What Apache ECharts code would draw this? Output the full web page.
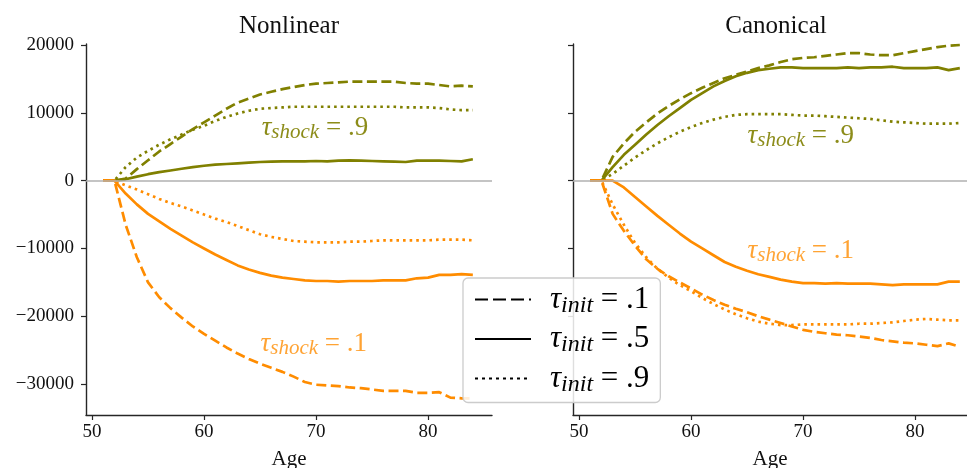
<!DOCTYPE html>
<html lang="en">
<head>
<meta charset="UTF-8">
<title>Nonlinear / Canonical</title>
<script src="https://cdn.jsdelivr.net/npm/echarts@6/dist/echarts.min.js"></script>
</head>
<body style="margin:0;background:#fff;">
<div id="chart" style="width:967px;height:468px;"></div>
<script>
// ages on the x axis
var ages = [51,52,53,54,55,56,57,58,59,60,61,62,63,64,65,66,67,68,69,70,71,72,73,74,75,76,77,78,79,80,81,82,83,84];

// Nonlinear panel (d = tau_init .1, s = .5, o = .9 ; suffix = tau_shock)
var nl_d9 = [0,0,300,1700,3000,4300,5400,6500,7600,8600,9600,10600,11500,12100,12700,13100,13500,13800,14100,14300,14400,14500,14600,14600,14600,14600,14600,14400,14300,14300,14100,13900,14000,13900];
var nl_s9 = [0,0,200,600,950,1250,1500,1750,2000,2200,2350,2450,2550,2650,2750,2800,2850,2850,2850,2900,2850,2950,3000,2950,2900,2850,2800,2750,2950,2950,2950,2900,2850,3150];
var nl_o9 = [0,0,2000,3400,4400,5300,6100,6800,7500,8100,8800,9400,9900,10300,10600,10700,10800,10900,10900,10900,10900,10900,10900,10900,10900,10900,10900,10800,10800,10800,10700,10500,10400,10400];
var nl_d1 = [0,0,-6500,-11300,-15000,-17200,-18800,-20200,-21500,-22600,-23600,-24600,-25500,-26300,-27000,-27600,-28200,-28900,-29700,-30100,-30200,-30300,-30500,-30600,-30800,-31000,-31000,-31000,-31300,-31300,-31200,-32000,-32100,-32100];
var nl_s1 = [0,0,-1900,-3500,-4900,-6000,-7100,-8100,-9100,-10000,-10900,-11700,-12500,-13100,-13600,-14000,-14300,-14500,-14700,-14800,-14800,-14900,-14800,-14800,-14800,-14700,-14700,-14700,-14400,-14300,-13900,-13900,-13800,-13900];
var nl_o1 = [0,0,-700,-1300,-2000,-2700,-3300,-3800,-4400,-5000,-5600,-6100,-6700,-7300,-7900,-8300,-8600,-8900,-9000,-9100,-9100,-9100,-9000,-9000,-8900,-8800,-8800,-8800,-8800,-8800,-8700,-8700,-8700,-8800];

// Canonical panel
var c_d9 = [0,0,3500,5500,7200,8600,9900,11000,12000,12900,13700,14400,15100,15600,16100,16600,17000,17500,17900,18100,18200,18400,18600,18800,18800,18600,18500,18500,18800,19100,19400,19700,19900,20000];
var c_s9 = [0,0,2000,3800,5300,6800,8200,9500,10700,11900,12900,13900,14700,15400,15900,16300,16500,16700,16700,16600,16600,16600,16600,16700,16600,16700,16700,16800,16600,16600,16600,16700,16300,16600];
var c_o9 = [0,0,1000,2200,3400,4500,5500,6400,7200,7900,8500,9000,9400,9700,9800,9800,9800,9800,9700,9600,9600,9500,9400,9300,9200,9100,8900,8700,8600,8500,8400,8400,8400,8500];
var c_d1 = [0,0,-4900,-7400,-9600,-11600,-13000,-14100,-15000,-15900,-16800,-17600,-18300,-18900,-19400,-20000,-20500,-21000,-21500,-22000,-22300,-22500,-22700,-22800,-23000,-23200,-23500,-23700,-23900,-24000,-24200,-24400,-24000,-24500];
var c_s1 = [0,0,0,-1000,-2400,-3800,-5200,-6500,-7800,-9000,-10000,-11000,-12000,-12700,-13300,-13800,-14200,-14600,-14900,-15100,-15100,-15200,-15100,-15200,-15200,-15200,-15300,-15400,-15300,-15300,-15300,-15300,-14900,-14900];
var c_o1 = [0,0,-3500,-6500,-9200,-11300,-13000,-14300,-15400,-16300,-17300,-18200,-19000,-19700,-20300,-20800,-21100,-21300,-21300,-21200,-21200,-21200,-21200,-21200,-21100,-21100,-21000,-20900,-20700,-20500,-20400,-20500,-20600,-20600];

// ticks and text
var xTicks = [50, 60, 70, 80];
var yTicks = [-30000, -20000, -10000, 0, 10000, 20000];
var panelTitles = ['Nonlinear', 'Canonical'];
var initLabels = {d: '.1', s: '.5', o: '.9'};
// tau_shock labels: [panel, age, value, text]
var shockLabels = [[0, 69.9, 7800, '.9'], [0, 69.8, -24100, '.1'], [1, 69.8, 6600, '.9'], [1, 69.8, -10300, '.1']];

var olive = '#808000', orange = '#ff8c00';
var serif = '"Liberation Serif", "DejaVu Serif", serif';
var dashT = [10, 4.5], dotT = [2.6, 4];

var chart = echarts.init(document.getElementById('chart'));

function pairs(vals) {
    return ages.map(function (a, i) { return [a, vals[i]]; });
}

function line(name, vals, gi, color, type) {
    return {
        name: name, type: 'line', xAxisIndex: gi, yAxisIndex: gi,
        data: pairs(vals), symbol: 'none', silent: true, z: 3,
        lineStyle: {color: color, width: 2.7, type: type, cap: 'butt'},
        itemStyle: {color: color}
    };
}

function shockMarks(gi, txt, color) {
    return {
        symbol: 'circle', symbolSize: 1, silent: true,
        itemStyle: {color: 'rgba(0,0,0,0)'},
        label: {
            show: true, position: 'inside',
            formatter: function (p) { return '{t|τ}{s|shock}{e| = ' + p.name + '}'; },
            rich: {
                t: {fontFamily: serif, fontStyle: 'italic', fontSize: 27, lineHeight: 30, color: color},
                s: {fontFamily: serif, fontStyle: 'italic', fontSize: 21, lineHeight: 19, verticalAlign: 'bottom', color: color},
                e: {fontFamily: serif, fontSize: 27, lineHeight: 30, color: color}
            }
        },
        data: shockLabels.filter(function (r) { return r[0] === gi && r[3] === txt; })
            .map(function (r) { return {name: r[3], coord: [r[1], r[2]]}; })
    };
}

var zeroLine = {
    silent: true, symbol: ['none', 'none'], label: {show: false},
    lineStyle: {color: '#b0b0b0', type: 'solid', width: 1.5},
    data: [{yAxis: 0}]
};

var oliveTxt = 'rgba(128,128,0,0.9)', orangeTxt = 'rgba(255,140,0,0.8)';

var series = [
    line('nl_d9', nl_d9, 0, olive, dashT),
    line('nl_s9', nl_s9, 0, olive, 'solid'),
    line('nl_o9', nl_o9, 0, olive, dotT),
    line('nl_d1', nl_d1, 0, orange, dashT),
    line('nl_s1', nl_s1, 0, orange, 'solid'),
    line('nl_o1', nl_o1, 0, orange, dotT),
    line('c_d9', c_d9, 1, olive, dashT),
    line('c_s9', c_s9, 1, olive, 'solid'),
    line('c_o9', c_o9, 1, olive, dotT),
    line('c_d1', c_d1, 1, orange, dashT),
    line('c_s1', c_s1, 1, orange, 'solid'),
    line('c_o1', c_o1, 1, orange, dotT)
];
series[1].markLine = zeroLine;
series[1].markPoint = shockMarks(0, '.9', oliveTxt);
series[4].markPoint = shockMarks(0, '.1', orangeTxt);
series[7].markLine = zeroLine;
series[7].markPoint = shockMarks(1, '.9', oliveTxt);
series[10].markPoint = shockMarks(1, '.1', orangeTxt);

// black entries, only used by the legend
[['d', [13, 5]], ['s', 'solid'], ['o', [3, 4]]].forEach(function (e) {
    series.push({
        name: e[0], type: 'line', xAxisIndex: 0, yAxisIndex: 0, data: [], symbol: 'none',
        lineStyle: {color: '#000', width: 3, type: e[1], cap: 'butt'},
        itemStyle: {color: 'rgba(0,0,0,0)', borderWidth: 0}
    });
});

function xAx(gi, max) {
    return {
        type: 'value', gridIndex: gi, min: 49.46, max: max,
        name: 'Age', nameLocation: 'middle', nameGap: 34,
        nameTextStyle: {fontFamily: serif, fontSize: 21, color: '#111'},
        axisLine: {onZero: false, lineStyle: {color: '#262626', width: 1.4}},
        axisTick: {length: 5, customValues: xTicks, lineStyle: {color: '#262626', width: 1.2}},
        axisLabel: {customValues: xTicks, fontFamily: serif, fontSize: 19, color: '#111', margin: 8},
        splitLine: {show: false}
    };
}

function yAx(gi, showLabel) {
    return {
        type: 'value', gridIndex: gi, min: -34560, max: 20150,
        axisLine: {show: true, onZero: false, lineStyle: {color: '#262626', width: 1.4}},
        axisTick: {show: true, length: 5, customValues: yTicks, lineStyle: {color: '#262626', width: 1.2}},
        axisLabel: {show: showLabel, customValues: yTicks, fontFamily: serif, fontSize: 19, color: '#111', margin: 12,
            formatter: function (v) { return String(v).replace('-', '\u2212'); }},
        splitLine: {show: false}
    };
}

var option = {
    animation: false,
    backgroundColor: '#fff',
    title: panelTitles.map(function (t, i) {
        return {text: t, left: i === 0 ? 284 : 771, top: 9, textAlign: 'center',
            textStyle: {fontFamily: serif, fontSize: 25, fontWeight: 'normal', color: '#111'}};
    }),
    grid: [
        {left: 86, top: 44, width: 406, height: 371, outerBoundsMode: 'none'},
        {left: 573, top: 44, width: 394, height: 371, outerBoundsMode: 'none'}
    ],
    xAxis: [xAx(0, 85.71), xAx(1, 84.64)],
    yAxis: [yAx(0, true), yAx(1, false)],
    legend: {
        data: ['d', 's', 'o'], orient: 'vertical', left: 463, top: 278,
        backgroundColor: 'rgba(255,255,255,0.85)', borderColor: '#cccccc', borderWidth: 1.3, borderRadius: 5,
        padding: [6, 11, 6, 11], itemWidth: 56, itemHeight: 14, itemGap: 6,
        selectedMode: false,
        itemStyle: {color: 'rgba(0,0,0,0)', borderWidth: 0},
        formatter: function (n) { return '{t|τ}{s|init}{e| = ' + initLabels[n] + '}'; },
        textStyle: {
            rich: {
                t: {fontFamily: serif, fontStyle: 'italic', fontSize: 31, lineHeight: 36, padding: [0, 0, 0, 14], color: '#000'},
                s: {fontFamily: serif, fontStyle: 'italic', fontSize: 24, lineHeight: 22, verticalAlign: 'bottom', color: '#000'},
                e: {fontFamily: serif, fontSize: 31, lineHeight: 36, color: '#000'}
            }
        }
    },
    series: series
};
chart.setOption(option);
</script>
</body>
</html>
